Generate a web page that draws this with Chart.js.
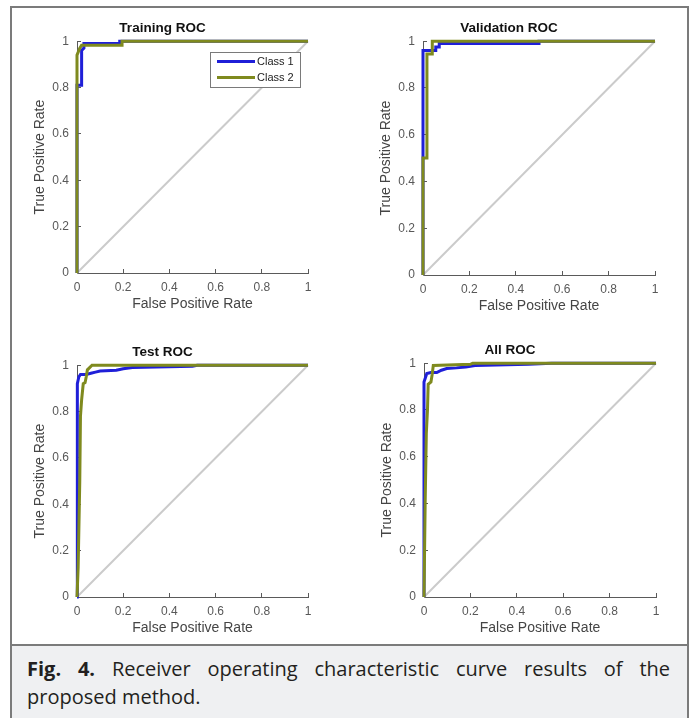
<!DOCTYPE html>
<html>
<head>
<meta charset="utf-8">
<script src="https://cdn.jsdelivr.net/npm/chart.js@4.4.1/dist/chart.umd.min.js"></script>
<style>
  body { margin: 0; width: 697px; height: 718px; overflow: hidden; background: #fff; }
  #frame { position: absolute; left: 10px; top: 6px; width: 679px; height: 740px; border: 2px solid #7b7b7b; box-sizing: border-box; }
  #caption { position: absolute; left: 10px; top: 644px; width: 679px; height: 100px; background: #eff0f2; border: 2px solid #7b7b7b; box-sizing: border-box; }
  canvas { position: absolute; }
  #c1 { left: 17px; top: 20px; }
  #c2 { left: 363px; top: 20px; }
  #c3 { left: 17px; top: 344px; }
  #c4 { left: 364px; top: 342px; }
  #captext { position: absolute; left: 27px; top: 655px; width: 643px; font-family: 'Open Sans', sans-serif; font-size: 20px; line-height: 28px; color: #231f20; }
  .l1 { text-align: justify; text-align-last: justify; }
</style>
</head>
<body>
<div id="frame"></div>
<div id="caption"></div>
<canvas id="c1" width="351" height="298"></canvas>
<canvas id="c2" width="352" height="300"></canvas>
<canvas id="c3" width="351" height="298"></canvas>
<canvas id="c4" width="352" height="300"></canvas>
<div id="captext">
  <div class="l1"><b>Fig. 4.</b> Receiver operating characteristic curve results of the</div>
  <div>proposed method.</div>
</div>
<script>
  const FONT = "'Liberation Sans', Arial, sans-serif";
  const tickLabels = ['0', '0.2', '0.4', '0.6', '0.8', '1'];
  const seriesNames = ['Class 1', 'Class 2'];
  const diagFpr = [0, 1];
  const diagTpr = [0, 1];

  // Training
  const trainFpr1 = [0, 0, 0.015, 0.02, 0.02, 0.03, 0.03, 0.185, 0.185, 1];
  const trainTpr1 = [0, 0.81, 0.81, 0.81, 0.96, 0.97, 0.99, 0.99, 1, 1];
  const trainFpr2 = [0, 0, 0.012, 0.02, 0.195, 0.195, 1];
  const trainTpr2 = [0, 0.94, 0.97, 0.983, 0.983, 1, 1];

  // Validation
  const valFpr1 = [0, 0, 0.055, 0.055, 0.07, 0.07, 0.5, 0.5, 1];
  const valTpr1 = [0, 0.96, 0.96, 0.975, 0.975, 0.99, 0.99, 1, 1];
  const valFpr2 = [0, 0, 0.017, 0.017, 0.04, 0.04, 1];
  const valTpr2 = [0, 0.5, 0.5, 0.945, 0.945, 1, 1];

  // Test
  const testFpr1 = [0, 0, 0.003, 0.008, 0.015, 0.04, 0.06, 0.08, 0.1, 0.17, 0.2, 0.24, 0.5, 0.52, 1];
  const testTpr1 = [0, 0.5, 0.92, 0.95, 0.96, 0.96, 0.965, 0.97, 0.975, 0.978, 0.985, 0.99, 0.995, 1, 1];
  const testFpr2 = [0, 0.005, 0.012, 0.015, 0.02, 0.027, 0.035, 0.04, 0.045, 0.065, 1];
  const testTpr2 = [0, 0.13, 0.5, 0.78, 0.85, 0.92, 0.925, 0.95, 0.98, 1, 1];

  // All
  const allFpr1 = [0, 0, 0.012, 0.03, 0.055, 0.075, 0.098, 0.14, 0.18, 0.22, 0.45, 0.55, 1];
  const allTpr1 = [0, 0.92, 0.956, 0.96, 0.96, 0.97, 0.977, 0.98, 0.984, 0.99, 0.995, 1, 1];
  const allFpr2 = [0, 0.005, 0.01, 0.015, 0.018, 0.03, 0.035, 0.04, 0.2, 0.21, 1];
  const allTpr2 = [0, 0.4, 0.7, 0.8, 0.91, 0.92, 0.95, 0.99, 0.995, 1, 1];

  const toPoints = (xs, ys) => xs.map((x, i) => ({ x: x, y: ys[i] }));

  // boxed legend inside the plot, top right (MATLAB style)
  const legendBox = {
    id: 'legendBox',
    afterDatasetsDraw(chart) {
      const { ctx, chartArea: a } = chart;
      const x0 = Math.round(a.right) - 98, y0 = Math.round(a.top) + 11, w = 90, h = 35;
      ctx.save();
      ctx.fillStyle = '#fff';
      ctx.fillRect(x0, y0, w, h);
      ctx.strokeStyle = '#7a7a7a';
      ctx.lineWidth = 1;
      ctx.strokeRect(x0 + 0.5, y0 + 0.5, w, h);
      chart.data.datasets.slice(0, 2).forEach((ds, i) => {
        const y = y0 + 9.5 + i * 16;
        ctx.strokeStyle = ds.borderColor;
        ctx.lineWidth = 3;
        ctx.beginPath();
        ctx.moveTo(x0 + 7, y);
        ctx.lineTo(x0 + 45, y);
        ctx.stroke();
        ctx.fillStyle = '#222';
        ctx.font = '11px ' + FONT;
        ctx.textBaseline = 'middle';
        ctx.fillText(ds.label, x0 + 47, y + 0.5);
      });
      ctx.restore();
    }
  };

  function axis(titleText, isX) {
    return {
      type: 'linear',
      min: 0,
      max: 1,
      afterFit: s => { if (isX) s.height = 45; else s.width = 60; },
      border: { display: true, color: '#5a5a5a', width: 1 },
      grid: { drawOnChartArea: false, drawTicks: true, tickLength: -4, color: '#5a5a5a' },
      ticks: {
        stepSize: 0.2,
        padding: isX ? 11 : 12,
        color: '#585858',
        maxRotation: 0,
        autoSkip: false,
        font: { family: FONT, size: 12 },
        callback: (v, i) => tickLabels[i]
      },
      title: {
        display: true,
        text: titleText,
        color: '#454545',
        font: { family: FONT, size: 14 },
        padding: isX ? { top: 0, bottom: 5 } : { top: 15, bottom: 0 }
      }
    };
  }

  function makePanel(id, title, fpr1, tpr1, fpr2, tpr2, withLegend) {
    const ctx = document.getElementById(id).getContext('2d');
    return new Chart(ctx, {
      type: 'scatter',
      data: {
        datasets: [
          { label: seriesNames[0], data: toPoints(fpr1, tpr1), showLine: true, borderColor: '#1f1fd8', borderWidth: 3, pointRadius: 0, clip: false, order: 1 },
          { label: seriesNames[1], data: toPoints(fpr2, tpr2), showLine: true, borderColor: '#7f8a1e', borderWidth: 3, pointRadius: 0, clip: false, order: 0 },
          { label: 'diag', data: toPoints(diagFpr, diagTpr), showLine: true, borderColor: '#cbcbcb', borderWidth: 2, pointRadius: 0, clip: false, order: 2 }
        ]
      },
      options: {
        responsive: false,
        animation: false,
        layout: { padding: { left: 0, right: 60, top: 0, bottom: 0 } },
        plugins: {
          legend: { display: false },
          tooltip: { enabled: false },
          title: {
            display: true,
            text: title,
            color: '#111',
            font: { family: FONT, size: 13.5, weight: 'bold' },
            padding: { top: 0, bottom: 5 }
          }
        },
        scales: {
          x: axis('False Positive Rate', true),
          y: axis('True Positive Rate', false)
        }
      },
      plugins: withLegend ? [legendBox] : []
    });
  }

  makePanel('c1', 'Training ROC', trainFpr1, trainTpr1, trainFpr2, trainTpr2, true);
  makePanel('c2', 'Validation ROC', valFpr1, valTpr1, valFpr2, valTpr2, false);
  makePanel('c3', 'Test ROC', testFpr1, testTpr1, testFpr2, testTpr2, false);
  makePanel('c4', 'All ROC', allFpr1, allTpr1, allFpr2, allTpr2, false);
</script>
</body>
</html>
